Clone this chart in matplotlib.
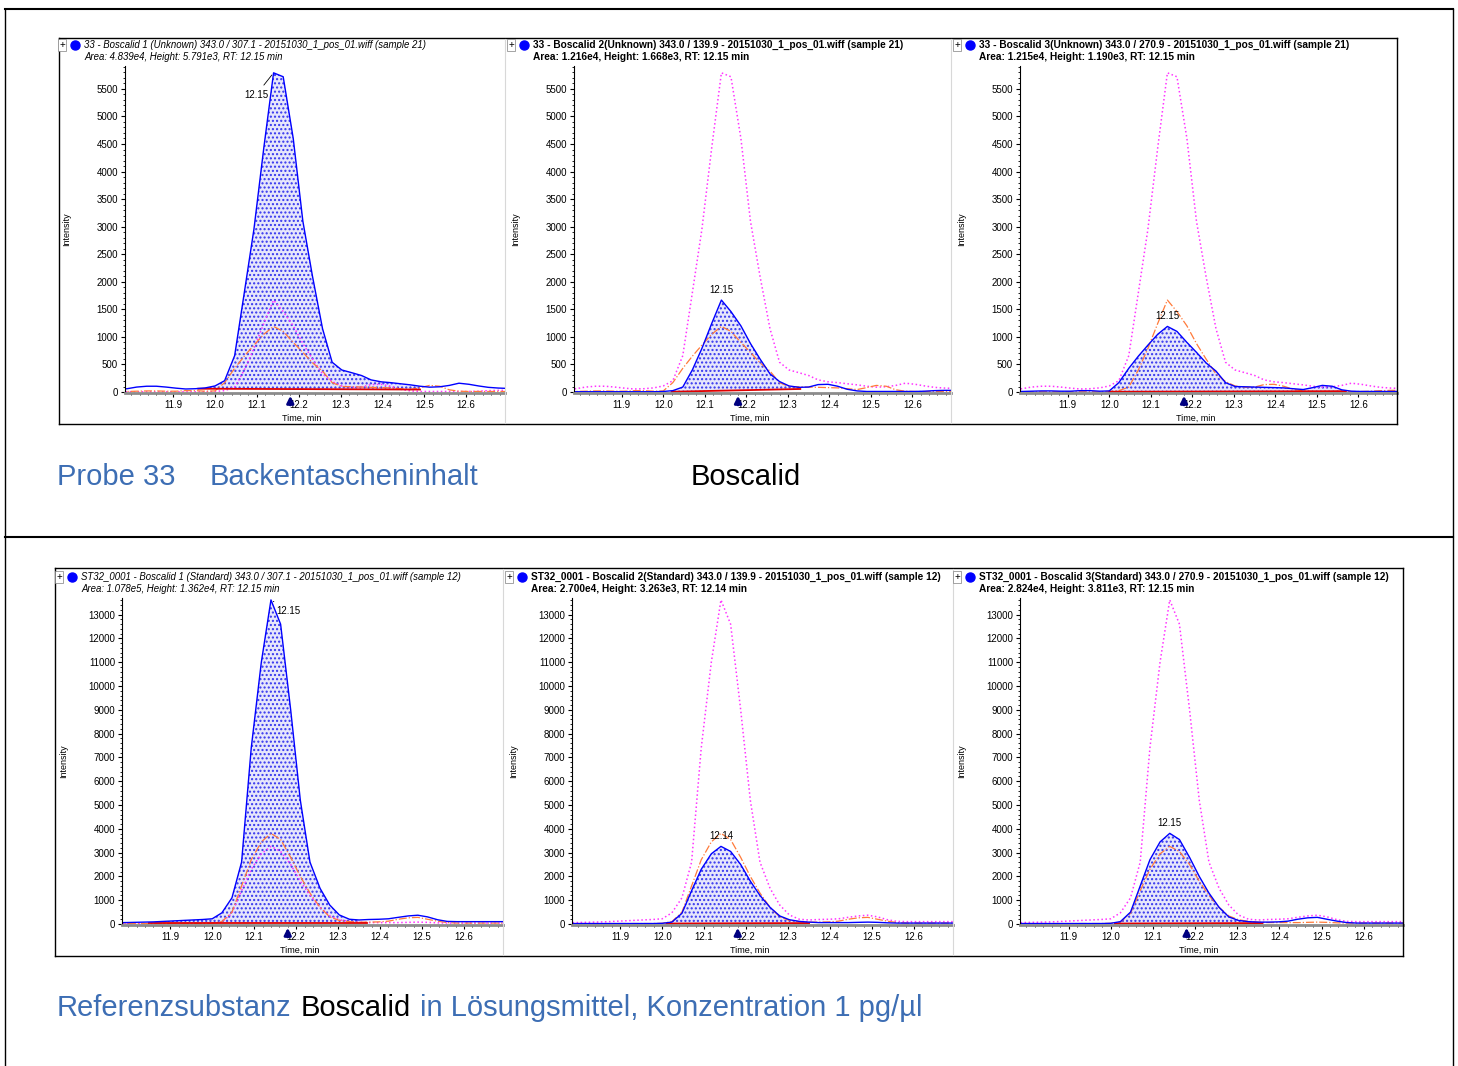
import matplotlib
matplotlib.use("Agg")
import matplotlib.pyplot as plt
from matplotlib.ticker import MultipleLocator, FixedLocator, FormatStrFormatter
from matplotlib.lines import Line2D

W, H = 1458, 1066

# retention time grid (min), shared by all traces
time_min = [11.767, 11.790, 11.813, 11.837, 11.860, 11.883, 11.907, 11.930, 11.953, 11.977,
            12.000, 12.023, 12.047, 12.070, 12.093, 12.117, 12.140, 12.163, 12.187, 12.210,
            12.233, 12.257, 12.280, 12.303, 12.327, 12.350, 12.373, 12.397, 12.420, 12.443,
            12.467, 12.490, 12.513, 12.537, 12.560, 12.583, 12.607, 12.630, 12.653, 12.677, 12.700]

# sample 21 (Probe 33)
s21_307 = [55, 60, 90, 105, 105, 90, 70, 55, 60, 75,
           110, 205, 660, 1800, 2950, 4450, 5791, 5720, 4600, 3100,
           2100, 1150, 540, 400, 350, 300, 220, 185, 170, 150,
           130, 105, 88, 95, 120, 160, 140, 110, 85, 72, 65]
s21_139 = [5, 5, 5, 5, 5, 5, 5, 5, 5, 5,
           10, 25, 90, 400, 790, 1250, 1668, 1460, 1200, 880,
           600, 330, 190, 110, 85, 90, 135, 140, 105, 50,
           20, 10, 10, 10, 10, 10, 10, 15, 25, 30, 30]
s21_270 = [10, 10, 15, 20, 20, 15, 15, 25, 25, 15,
           20, 170, 430, 650, 850, 1050, 1190, 1100, 900, 720,
           530, 380, 170, 100, 95, 90, 85, 80, 75, 60,
           45, 80, 120, 105, 40, 15, 10, 10, 10, 10, 10]

# sample 12 (ST32_0001, standard)
s12_307 = [40, 60, 70, 80, 90, 110, 130, 150, 170, 190,
           220, 470, 1100, 2600, 7400, 11000, 13620, 12600, 9000, 5200,
           2600, 1500, 800, 380, 200, 170, 190, 200, 220, 280,
           340, 370, 300, 180, 110, 100, 100, 100, 100, 100, 100]
s12_139 = [20, 20, 20, 20, 20, 20, 20, 20, 20, 20,
           30, 80, 450, 1400, 2300, 2950, 3263, 3050, 2500, 1800,
           1200, 700, 340, 180, 110, 80, 60, 60, 60, 60,
           70, 80, 70, 50, 40, 40, 40, 40, 40, 40, 40]
s12_270 = [20, 20, 20, 20, 20, 20, 20, 20, 20, 20,
           30, 100, 500, 1600, 2700, 3450, 3811, 3550, 2800, 2000,
           1300, 700, 300, 150, 100, 80, 80, 90, 120, 200,
           260, 280, 200, 120, 60, 40, 40, 40, 40, 40, 40]

x_ticks = [11.9, 12.0, 12.1, 12.2, 12.3, 12.4, 12.5, 12.6]

top_titles = ["33 - Boscalid 1 (Unknown) 343.0 / 307.1 - 20151030_1_pos_01.wiff (sample 21)",
              "33 - Boscalid 2(Unknown) 343.0 / 139.9 - 20151030_1_pos_01.wiff (sample 21)",
              "33 - Boscalid 3(Unknown) 343.0 / 270.9 - 20151030_1_pos_01.wiff (sample 21)"]
top_info = ["Area: 4.839e4, Height: 5.791e3, RT: 12.15 min",
            "Area: 1.216e4, Height: 1.668e3, RT: 12.15 min",
            "Area: 1.215e4, Height: 1.190e3, RT: 12.15 min"]
bot_titles = ["ST32_0001 - Boscalid 1 (Standard) 343.0 / 307.1 - 20151030_1_pos_01.wiff (sample 12)",
              "ST32_0001 - Boscalid 2(Standard) 343.0 / 139.9 - 20151030_1_pos_01.wiff (sample 12)",
              "ST32_0001 - Boscalid 3(Standard) 343.0 / 270.9 - 20151030_1_pos_01.wiff (sample 12)"]
bot_info = ["Area: 1.078e5, Height: 1.362e4, RT: 12.15 min",
            "Area: 2.700e4, Height: 3.263e3, RT: 12.14 min",
            "Area: 2.824e4, Height: 3.811e3, RT: 12.15 min"]
top_peak_labels = ["12.15", "12.15", "12.15"]
bot_peak_labels = ["12.15", "12.14", "12.15"]

# integration window (start, end) and baseline levels per panel
top_window = [(11.96, 12.49), (12.02, 12.33), (12.00, 12.57)]
top_base = [(60, 45), (5, 55), (5, 15)]
bot_window = [(11.85, 12.37), (12.01, 12.35), (12.01, 12.36)]
bot_base = [(60, 60), (20, 40), (20, 40)]

blue_hex = "#3d6eb4"
plt.rcParams["font.family"] = ["Liberation Sans", "DejaVu Sans"]
fig = plt.figure(figsize=(W / 100, H / 100), dpi=100)


def fx(px):
    return px / W


def fy(py):
    return 1 - py / H


def line(x0, y0, x1, y1, **kw):
    fig.add_artist(Line2D([fx(x0), fx(x1)], [fy(y0), fy(y1)], transform=fig.transFigure, **kw))


def panel(left, right, top, bottom, ymax, ystep, ystep_minor, traces, main, window, base,
          peak_label, label_kind, title, info, italic):
    ax = fig.add_axes([fx(left), fy(bottom), fx(right - left), (bottom - top) / H])
    others = [k for k in range(3) if k != main]
    t0, t1 = window
    xs = [t for t in time_min if t0 <= t <= t1]
    ys = [traces[main][i] for i, t in enumerate(time_min) if t0 <= t <= t1]
    bl = [base[0] + (base[1] - base[0]) * (t - t0) / (t1 - t0) for t in xs]
    ax.fill_between(xs, bl, ys, facecolor="#e6e6fb", edgecolor="#3434ee", hatch="....", linewidth=0)
    ax.plot(time_min, traces[others[0]], color="#ff33ff", ls=":", lw=1.1)
    ax.plot(time_min, traces[others[1]], color="#ff7a3a", ls="-.", lw=0.9)
    ax.plot([t0, t1], list(base), color="#e00000", lw=1.3)
    ax.plot(time_min, traces[main], color="#0000ff", lw=1.0)

    ax.set_xlim(11.785, 12.693)
    ax.set_ylim(-ymax * 0.003, ymax)
    ax.xaxis.set_major_locator(FixedLocator(x_ticks))
    ax.xaxis.set_minor_locator(MultipleLocator(0.02))
    ax.xaxis.set_major_formatter(FormatStrFormatter("%.1f"))
    ax.yaxis.set_major_locator(MultipleLocator(ystep))
    ax.yaxis.set_minor_locator(MultipleLocator(ystep_minor))
    ax.tick_params(which="major", labelsize=7, length=3, width=0.8, pad=2)
    ax.tick_params(which="minor", length=1.5, width=0.6)
    for s in ("top", "right"):
        ax.spines[s].set_visible(False)
    ax.spines["bottom"].set_color("#8c8c8c")
    ax.spines["bottom"].set_linewidth(2)
    ax.spines["left"].set_linewidth(0.8)

    # peak apex label
    k = traces[main].index(max(traces[main]))
    px, py = time_min[k], traces[main][k]
    if label_kind == "leader_left":
        ax.annotate(peak_label, xy=(px, py), xytext=(-4, -16), textcoords="offset points",
                    fontsize=7, ha="right", va="center",
                    arrowprops=dict(arrowstyle="-", color="black", lw=0.6))
    elif label_kind == "leader_right":
        ax.annotate(peak_label, xy=(px, py), xytext=(4, -8), textcoords="offset points",
                    fontsize=7, ha="left", va="center",
                    arrowprops=dict(arrowstyle="-", color="black", lw=0.6))
    else:
        ax.annotate(peak_label, xy=(px, py), xytext=(0, 4), textcoords="offset points",
                    fontsize=7, ha="center", va="bottom")

    # retention time marker
    ax.annotate("", xy=(12.18, 0.0), xytext=(12.18, -0.045), xycoords=("data", "axes fraction"),
                textcoords=("data", "axes fraction"),
                arrowprops=dict(arrowstyle="-|>", color="#000080", lw=2.0, mutation_scale=10),
                annotation_clip=False)

    fig.text(fx(left - 58), fy((top + bottom) / 2), "Intensity", rotation=90, fontsize=6.5,
             ha="center", va="center")
    fig.text(fx((left + right) / 2 - 13), fy(bottom + 25), "Time, min", fontsize=6.5,
             ha="center", va="center")

    # header
    hx = left - 63
    fig.text(fx(hx), fy(top - 21), "+", fontsize=7, ha="center", va="center",
             bbox=dict(boxstyle="square,pad=0.1", fc="white", ec="#808080", lw=0.5))
    fig.add_artist(Line2D([fx(hx + 13)], [fy(top - 21)], marker="o", markersize=6.5,
                          color="#0000ff", transform=fig.transFigure))
    if italic:
        style = dict(fontsize=6.9, style="italic")
    else:
        style = dict(fontsize=7.3, weight="bold")
    fig.text(fx(hx + 22), fy(top - 21), title, va="center", ha="left", **style)
    fig.text(fx(hx + 22), fy(top - 9), info, va="center", ha="left", **style)
    return ax


top_traces = [s21_307, s21_139, s21_270]
bot_traces = [s12_307, s12_139, s12_270]
top_lr = [(125, 505), (574, 951), (1020, 1397)]
bot_lr = [(122, 503), (572, 953), (1020, 1403)]
top_kind = ["leader_left", "above", "above"]
bot_kind = ["leader_right", "above", "above"]

for i in range(3):
    panel(top_lr[i][0], top_lr[i][1], 66, 393, 5915, 500, 100, top_traces, i, top_window[i],
          top_base[i], top_peak_labels[i], top_kind[i], top_titles[i], top_info[i], i == 0)
    panel(bot_lr[i][0], bot_lr[i][1], 598, 925, 13700, 1000, 200, bot_traces, i, bot_window[i],
          bot_base[i], bot_peak_labels[i], bot_kind[i], bot_titles[i], bot_info[i], i == 0)

# panel frames
for (x0, y0, x1, y1, seps) in [(59, 38, 1397, 424, [505, 951]), (55, 568, 1403, 956, [503, 953])]:
    line(x0, y0, x1, y0, color="black", lw=1)
    line(x0, y1, x1, y1, color="black", lw=1)
    line(x0, y0, x0, y1, color="black", lw=1)
    line(x1, y0, x1, y1, color="black", lw=1)
    for s in seps:
        line(s, y0 + 1, s, y1 - 1, color="#d8d8d8", lw=0.8)

# table borders
line(5, 9, 1453, 9, color="black", lw=1.5)
line(5, 537, 1453, 537, color="black", lw=1.5)
line(5, 9, 5, 1066, color="black", lw=1)
line(1453, 9, 1453, 1066, color="black", lw=1)

# captions
cap = dict(fontsize=21, va="baseline", ha="left")
fig.text(fx(57), fy(485), "Probe 33", color=blue_hex, **cap)
fig.text(fx(210), fy(485), "Backentascheninhalt", color=blue_hex, **cap)
fig.text(fx(691), fy(485), "Boscalid", color="black", **cap)
fig.text(fx(57), fy(1016), "Referenzsubstanz", color=blue_hex, **cap)
fig.text(fx(301), fy(1016), "Boscalid", color="black", **cap)
fig.text(fx(420), fy(1016), "in Lösungsmittel, Konzentration 1 pg/µl", color=blue_hex, **cap)

fig.savefig("out.png", dpi=100)
